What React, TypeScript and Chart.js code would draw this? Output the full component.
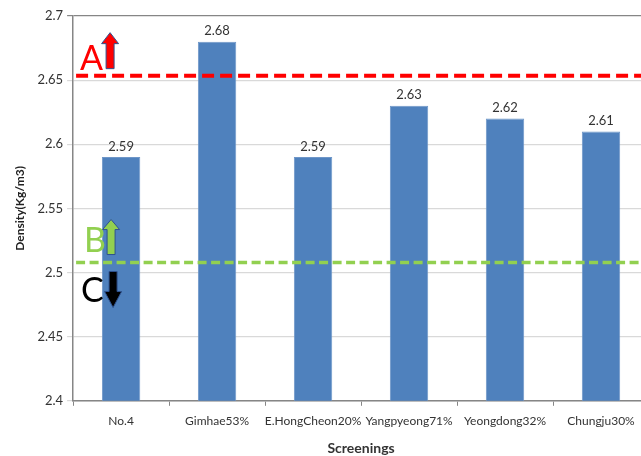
import React, { useEffect, useRef } from "react";
import { Chart, registerables } from "chart.js";

Chart.register(...registerables);

const categories = ["No.4", "Gimhae53%", "E.HongCheon20%", "Yangpyeong71%", "Yeongdong32%", "Chungju30%"];
const densities = [2.59, 2.68, 2.59, 2.63, 2.62, 2.61];
const limitA = 2.6535;
const limitB = 2.5078;
const yMin = 2.4;
const yMax = 2.7;
const yStep = 0.05;

const FONT = "Lato, 'Open Sans', sans-serif";

function drawArrow(ctx: CanvasRenderingContext2D, cx: number, tipY: number, endY: number, headLen: number, headW: number, shaftW: number, fill: string, stroke: string) {
  const dir = endY > tipY ? 1 : -1;
  const baseY = tipY + dir * headLen;
  ctx.beginPath();
  ctx.moveTo(cx, tipY);
  ctx.lineTo(cx + headW / 2, baseY);
  ctx.lineTo(cx + shaftW / 2, baseY);
  ctx.lineTo(cx + shaftW / 2, endY);
  ctx.lineTo(cx - shaftW / 2, endY);
  ctx.lineTo(cx - shaftW / 2, baseY);
  ctx.lineTo(cx - headW / 2, baseY);
  ctx.closePath();
  ctx.fillStyle = fill;
  ctx.fill();
  ctx.lineWidth = 1;
  ctx.strokeStyle = stroke;
  ctx.stroke();
}

const overlayPlugin = {
  id: "overlay",
  afterDatasetsDraw(chart: any) {
    const { ctx, chartArea, scales } = chart;
    const y = scales.y;
    ctx.save();
    ctx.beginPath();
    ctx.rect(chartArea.left, chartArea.top - 30, chartArea.right - chartArea.left, chartArea.bottom - chartArea.top + 30);
    ctx.clip();
    const yA = y.getPixelForValue(limitA);
    const yB = y.getPixelForValue(limitB);
    ctx.setLineDash([12, 6]);
    ctx.lineWidth = 4;
    ctx.strokeStyle = "#ff0000";
    ctx.beginPath();
    ctx.moveTo(chartArea.left + 3, yA);
    ctx.lineTo(chartArea.right, yA);
    ctx.stroke();
    ctx.setLineDash([9, 4.5]);
    ctx.lineWidth = 3.5;
    ctx.strokeStyle = "#92d050";
    ctx.beginPath();
    ctx.moveTo(chartArea.left + 3, yB);
    ctx.lineTo(chartArea.right, yB);
    ctx.stroke();
    ctx.setLineDash([]);
    ctx.restore();

    const meta = chart.getDatasetMeta(0);
    ctx.save();
    ctx.font = `13px ${FONT}`;
    ctx.fillStyle = "#333333";
    ctx.textAlign = "center";
    ctx.textBaseline = "bottom";
    meta.data.forEach((bar: any, i: number) => {
      ctx.fillText(densities[i].toFixed(2), bar.x, bar.y - 4);
    });
    ctx.restore();

    const L = chartArea.left;
    ctx.save();
    ctx.font = `34px ${FONT}`;
    ctx.textBaseline = "alphabetic";
    ctx.textAlign = "left";
    ctx.fillStyle = "#ff0000";
    ctx.fillText("A", L + 7, yA - 6);
    drawArrow(ctx, L + 37, yA - 43, yA - 7, 11, 17, 8, "#ff0000", "#2f528f");
    ctx.fillStyle = "#92d050";
    ctx.fillText("B", L + 11, yB - 11);
    drawArrow(ctx, L + 38, yB - 43, yB - 8, 10, 17, 8, "#92d050", "#2f528f");
    ctx.fillStyle = "#000000";
    ctx.fillText("C", L + 8, yB + 39);
    drawArrow(ctx, L + 40, yB + 45, yB + 9, 16, 17, 8, "#000000", "#2f528f");
    ctx.restore();
  },
};

export default function App() {
  const ref = useRef<HTMLCanvasElement>(null);
  useEffect(() => {
    if (!ref.current) return;
    const chart = new Chart(ref.current, {
      type: "bar",
      data: {
        labels: categories,
        datasets: [
          {
            data: densities,
            backgroundColor: "#4f81bd",
            borderColor: "#6e96c8",
            borderWidth: 1,
            categoryPercentage: 0.4,
            barPercentage: 1,
          },
        ],
      },
      options: {
        animation: false,
        responsive: true,
        maintainAspectRatio: false,
        layout: { padding: { top: 16, right: 11, left: 9, bottom: 0 } },
        plugins: { legend: { display: false }, tooltip: { enabled: false } },
        scales: {
          x: {
            grid: { display: true, drawOnChartArea: false, drawTicks: true, tickLength: 5, color: "#868686", offset: true },
            border: { color: "#868686", width: 1.5 },
            ticks: { color: "#333333", font: { family: FONT, size: 12 }, padding: 8, maxRotation: 0, autoSkip: false },
            title: { display: true, text: "Screenings", color: "#333333", font: { family: FONT, size: 14, weight: "bold" }, padding: { top: 4, bottom: 0 } },
          },
          y: {
            min: yMin,
            max: yMax,
            grid: {
              color: (c: any) => (c.tick && Math.abs(c.tick.value - yMax) < 1e-6 ? "#868686" : "#d9d9d9"),
              lineWidth: 1.2,
              tickLength: 6,
            },
            border: { color: "#868686", width: 1.5 },
            ticks: {
              stepSize: yStep,
              color: "#333333",
              font: { family: FONT, size: 13 },
              padding: 4,
              callback: (v: any) => String(Number(Number(v).toFixed(2))),
            },
            title: { display: true, text: "Density(Kg/m3)", color: "#222222", font: { family: FONT, size: 12, weight: "bold" }, padding: { bottom: 6 } },
          },
        },
      },
      plugins: [overlayPlugin],
    });
    return () => chart.destroy();
  }, []);
  return (
    <div style={{ position: "fixed", left: 0, top: 0, width: 641, height: 456, overflow: "hidden", background: "#fff" }}>
      <div style={{ position: "relative", width: 660, height: 457 }}>
        <canvas ref={ref} />
      </div>
    </div>
  );
}
